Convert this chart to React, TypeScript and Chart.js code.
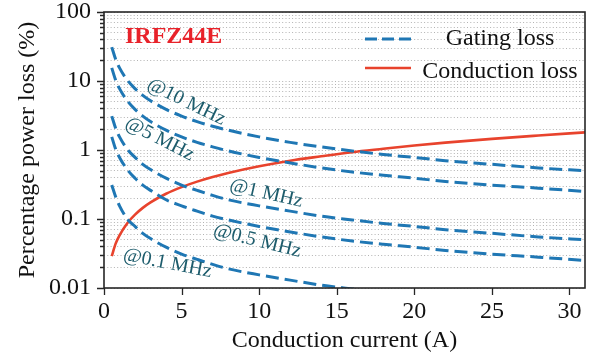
import React, { useEffect, useRef } from 'react';
import { Chart, registerables } from 'chart.js';

Chart.register(...registerables);

// Conduction current (A) sample points
const current = [0.5, 0.75, 1, 1.5, 2, 2.5, 3, 4, 5, 6, 7, 8, 10, 12, 14, 16, 18, 20, 22, 25, 28, 31];

// Gating loss (%), one per switching frequency
const gating10MHz = [31, 20.7, 15.5, 10.3, 7.75, 6.2, 5.17, 3.88, 3.1, 2.58, 2.21, 1.94, 1.55, 1.29, 1.11, 0.97, 0.86, 0.78, 0.7, 0.62, 0.55, 0.5];
const gating5MHz = [15.5, 10.3, 7.75, 5.17, 3.88, 3.1, 2.58, 1.94, 1.55, 1.29, 1.11, 0.97, 0.78, 0.65, 0.55, 0.48, 0.43, 0.39, 0.35, 0.31, 0.28, 0.25];
const gating1MHz = [3.1, 2.07, 1.55, 1.03, 0.78, 0.62, 0.52, 0.39, 0.31, 0.26, 0.22, 0.19, 0.155, 0.13, 0.11, 0.097, 0.086, 0.078, 0.07, 0.062, 0.055, 0.05];
const gating05MHz = [1.55, 1.03, 0.78, 0.52, 0.39, 0.31, 0.26, 0.19, 0.155, 0.13, 0.11, 0.097, 0.078, 0.065, 0.055, 0.048, 0.043, 0.039, 0.035, 0.031, 0.028, 0.025];
const gating01MHz = [0.31, 0.21, 0.155, 0.1, 0.078, 0.062, 0.052, 0.039, 0.031, 0.026, 0.022, 0.019, 0.0155, 0.013, 0.011, 0.0097, 0.0086, 0.0078, 0.007, 0.0062, 0.0055, 0.005];

// Conduction loss (%)
const conductionLoss = [0.029, 0.044, 0.058, 0.087, 0.116, 0.145, 0.174, 0.232, 0.29, 0.348, 0.406, 0.464, 0.58, 0.7, 0.81, 0.93, 1.04, 1.16, 1.28, 1.45, 1.62, 1.8];

// Axis ticks
const xTicks = [0, 5, 10, 15, 20, 25, 30];
const yTicks = [
  0.01, 0.02, 0.03, 0.04, 0.05, 0.06, 0.07, 0.08, 0.09,
  0.1, 0.2, 0.3, 0.4, 0.5, 0.6, 0.7, 0.8, 0.9,
  1, 2, 3, 4, 5, 6, 7, 8, 9,
  10, 20, 30, 40, 50, 60, 70, 80, 90,
  100,
];
const yMajorLabels = ['0.01', '0.1', '1', '10', '100'];

// Curve annotations (text, anchor in data coords, rotation in degrees)
const annotationText = ['@10 MHz', '@5 MHz', '@1 MHz', '@0.5 MHz', '@0.1 MHz'];
const annotationX = [5.3, 3.58, 10.45, 9.87, 4.09];
const annotationY = [4.97, 1.44, 0.234, 0.048, 0.0227];
const annotationAngle = [26, 27, 13, 14, 11];

const FONT = "'Liberation Serif', 'Times New Roman', 'DejaVu Serif', serif";
const BLUE = '#1f77b4';
const RED = '#e8432d';
const TEXT_TEAL = '#1d5c6c';

const toPoints = (ys: number[]) => current.map((x, i) => ({ x, y: ys[i] }));

const overlayPlugin = {
  id: 'overlay',
  afterDatasetsDraw(chart: any) {
    const { ctx, chartArea } = chart;
    const xs = chart.scales.x;
    const ys = chart.scales.y;
    const { left, right, top, bottom } = chartArea;
    ctx.save();

    // annotations
    ctx.fillStyle = TEXT_TEAL;
    ctx.font = `20px ${FONT}`;
    ctx.textAlign = 'center';
    ctx.textBaseline = 'middle';
    annotationText.forEach((t, i) => {
      const px = xs.getPixelForValue(annotationX[i]);
      const py = ys.getPixelForValue(annotationY[i]);
      ctx.save();
      ctx.translate(px, py);
      ctx.rotate((annotationAngle[i] * Math.PI) / 180);
      ctx.fillText(t, 0, 0);
      ctx.restore();
    });

    // title
    ctx.fillStyle = '#e8222a';
    ctx.font = `bold 24px ${FONT}`;
    ctx.textAlign = 'left';
    ctx.textBaseline = 'alphabetic';
    ctx.fillText('IRFZ44E', left + 21, top + 31);

    // legend
    ctx.lineWidth = 3;
    ctx.strokeStyle = BLUE;
    ctx.setLineDash([12, 5]);
    ctx.beginPath();
    ctx.moveTo(365, 39);
    ctx.lineTo(411, 39);
    ctx.stroke();
    ctx.setLineDash([]);
    ctx.strokeStyle = RED;
    ctx.lineWidth = 2.6;
    ctx.beginPath();
    ctx.moveTo(365, 68);
    ctx.lineTo(411, 68);
    ctx.stroke();
    ctx.fillStyle = '#111';
    ctx.font = `24px ${FONT}`;
    ctx.textAlign = 'center';
    ctx.fillText('Gating loss', 500, 45);
    ctx.fillText('Conduction loss', 500, 77.5);

    // frame
    ctx.strokeStyle = '#262626';
    ctx.lineWidth = 1.6;
    ctx.strokeRect(left, top, right - left, bottom - top);

    // tick marks
    ctx.lineWidth = 1.3;
    ctx.beginPath();
    yTicks.forEach((v) => {
      const py = Math.round(ys.getPixelForValue(v)) + 0.5;
      const isMajor = yMajorLabels.includes(String(v));
      const len = isMajor ? 7 : 4;
      ctx.moveTo(left, py);
      ctx.lineTo(left - len, py);
    });
    xTicks.forEach((v) => {
      const px = Math.round(xs.getPixelForValue(v)) + 0.5;
      ctx.moveTo(px, bottom);
      ctx.lineTo(px, bottom + 7);
    });
    ctx.stroke();
    ctx.restore();
  },
};

export default function App() {
  const canvasRef = useRef<HTMLCanvasElement | null>(null);

  useEffect(() => {
    document.body.style.margin = '0';
    const canvas = canvasRef.current;
    if (!canvas) return;

    const gatingStyle = {
      borderColor: BLUE,
      borderWidth: 3,
      borderDash: [13, 6],
      pointRadius: 0,
      fill: false,
      cubicInterpolationMode: 'monotone' as const,
    };

    const chart = new Chart(canvas, {
      type: 'line',
      data: {
        datasets: [
          { label: 'Gating loss 10 MHz', data: toPoints(gating10MHz), ...gatingStyle },
          { label: 'Gating loss 5 MHz', data: toPoints(gating5MHz), ...gatingStyle },
          { label: 'Gating loss 1 MHz', data: toPoints(gating1MHz), ...gatingStyle },
          { label: 'Gating loss 0.5 MHz', data: toPoints(gating05MHz), ...gatingStyle },
          { label: 'Gating loss 0.1 MHz', data: toPoints(gating01MHz), ...gatingStyle },
          {
            label: 'Conduction loss',
            data: toPoints(conductionLoss),
            borderColor: RED,
            borderWidth: 2.6,
            pointRadius: 0,
            fill: false,
            cubicInterpolationMode: 'monotone' as const,
          },
        ],
      },
      options: {
        animation: false,
        responsive: false,
        devicePixelRatio: 1,
        layout: { padding: { top: 12, right: 15, left: 0, bottom: 0 }, autoPadding: false },
        plugins: { legend: { display: false }, tooltip: { enabled: false } },
        scales: {
          x: {
            type: 'linear',
            min: 0,
            max: 31,
            afterBuildTicks: (s: any) => {
              s.ticks = xTicks.map((v) => ({ value: v }));
            },
            afterFit: (s: any) => {
              s.height = 75;
              s.paddingLeft = 0;
              s.paddingRight = 0;
              s.paddingTop = 0;
              s.paddingBottom = 0;
            },
            ticks: {
              autoSkip: false,
              maxRotation: 0,
              padding: 9,
              color: '#111',
              font: { family: FONT, size: 24 },
              callback: (v: any) => String(v),
            },
            grid: { display: false, drawTicks: false },
            border: { display: false },
            title: {
              display: true,
              text: 'Conduction current (A)',
              color: '#111',
              font: { family: FONT, size: 24 },
              padding: { top: 0, bottom: 7.6 },
            },
          },
          y: {
            type: 'logarithmic',
            min: 0.01,
            max: 100,
            afterBuildTicks: (s: any) => {
              s.ticks = yTicks.map((v) => ({ value: v }));
            },
            afterFit: (s: any) => {
              s.width = 104;
              s.paddingLeft = 0;
              s.paddingRight = 0;
              s.paddingTop = 0;
              s.paddingBottom = 0;
            },
            ticks: {
              autoSkip: false,
              padding: 13,
              color: '#111',
              font: { family: FONT, size: 24 },
              callback: (v: any) => (yMajorLabels.includes(String(v)) ? String(v) : ''),
            },
            grid: { display: true, drawTicks: false, color: '#b3b3b3', lineWidth: 1 },
            border: { display: false, dash: [1, 2.3] },
            title: {
              display: true,
              text: 'Percentage power loss (%)',
              color: '#111',
              font: { family: FONT, size: 24 },
              padding: { top: 13, bottom: 0 },
            },
          },
        },
      },
      plugins: [overlayPlugin],
    });

    return () => chart.destroy();
  }, []);

  return (
    <div style={{ width: 600, height: 363 }}>
      <canvas ref={canvasRef} width={600} height={363} style={{ display: 'block' }} />
    </div>
  );
}
